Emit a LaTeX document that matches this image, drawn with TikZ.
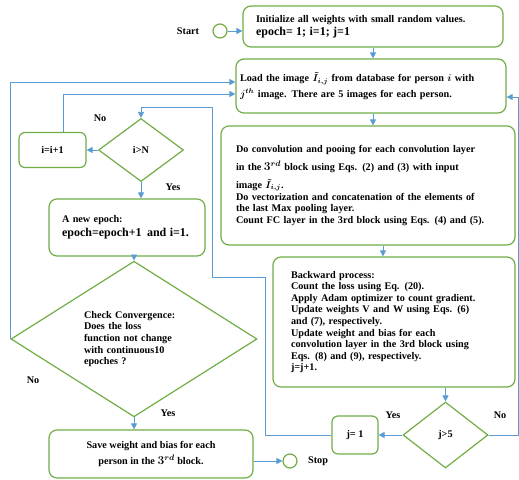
\documentclass[tikz,border=0pt]{standalone}
\usepackage{fontspec}
\setmainfont{Liberation Serif}
\usetikzlibrary{shapes.geometric,arrows.meta}

\definecolor{boxgreen}{RGB}{112,173,71}
\definecolor{flowblue}{RGB}{91,155,213}

\tikzset{
	box/.style={draw=boxgreen, line width=1.2pt, rounded corners=8pt, inner ysep=0pt, align=left},
	decision/.style={draw=boxgreen, line width=1.2pt, diamond, inner sep=0pt},
	terminal/.style={draw=boxgreen, line width=1.2pt, circle, minimum size=14pt, inner sep=0pt},
	arrow/.style={draw=flowblue, line width=0.8pt, -{Triangle[length=6pt,width=6pt]}},
	tag/.style={inner sep=0pt}
}

\begin{document}
\begin{tikzpicture}[x=1pt, y=-1pt, font=\fontsize{10.2}{11.6}\selectfont\bfseries\boldmath]
		\useasboundingbox (0,0) rectangle (519,479);

		% terminals
		\node[tag] (startlbl) at (188, 31) {Start};
		\node[terminal] (start) at (220, 31) {};
		\node[terminal] (stop) at (290, 461) {};
		\node[tag] (stoplbl) at (318, 461) {Stop};

		% process boxes
		\node[box, minimum width=260pt, minimum height=41pt, text width=234pt, inner xsep=13pt] (init) at (373, 26.5)
			{Initialize all weights with small random values.\\[1pt] {\large epoch= 1; i=1; j=1}};
		\node[box, minimum width=270pt, minimum height=54pt, text width=262pt, inner xsep=4pt] (load) at (371, 86)
			{Load the image $\tilde{I}_{i,j}$ from database for person $i$ with\\[4pt] $j^{th}$ image. There are 5 images for each person.};
		\node[box, minimum width=294pt, minimum height=119pt, text width=264pt, inner xsep=15pt] (conv) at (368, 185.5)
			{Do convolution and pooing for each convolution layer\\[5pt]
			 in the{\large$\,3^{rd}$} block using Eqs. (2) and (3) with input\\[5pt]
			 image $\tilde{I}_{i,j}$.\\
			 Do vectorization and concatenation of the elements of\\
			 the last Max pooling layer.\\
			 Count FC layer in the 3rd block using Eqs. (4) and (5).};
		\node[box, minimum width=242pt, minimum height=130pt, text width=206pt, inner xsep=18pt] (back) at (394, 322)
			{Backward process:\\
			 Count the loss using Eq. (20).\\
			 Apply Adam optimizer to count gradient.\\
			 Update weights V and W using Eqs. (6)\\
			 and (7), respectively.\\
			 Update weight and bias for each\\
			 convolution layer in the 3rd block using\\
			 Eqs. (8) and (9), respectively.\\
			 j=j+1.};
		\node[box, rounded corners=6pt, minimum width=46pt, minimum height=38pt, align=center] (jreset) at (355, 435) {j= 1};
		\node[box, rounded corners=6pt, minimum width=67pt, minimum height=35pt, align=center] (iinc) at (52.5, 150) {i=i+1};
		\node[box, minimum width=156pt, minimum height=57pt, text width=130pt, inner xsep=13pt] (epoch) at (127, 227.5)
			{A new epoch:\\[2pt] {\large epoch=epoch+1 \,and i=1.}};
		\node[box, minimum width=204pt, minimum height=48pt, align=center] (save) at (151, 454)
			{Save weight and bias for each\\[3pt] person in the {\large$3^{rd}$} block.};

		% decisions
		\node[decision, minimum width=85pt, minimum height=66pt] (jcheck) at (445.5, 435) {j>5};
		\node[decision, minimum width=85pt, minimum height=63pt] (icheck) at (141, 150) {i>N};
		\node[decision, minimum width=246pt, minimum height=138pt, text width=100pt, align=left] (converge) at (134, 339)
			{Check Convergence:\\ Does the loss\\ function not change\\ with continuous10\\ epoches ?};

		% labels
		\node[tag] (nolbla) at (100, 118) {No};
		\node[tag] (yeslbla) at (173, 187) {Yes};
		\node[tag] (nolblb) at (33, 380) {No};
		\node[tag] (yeslblb) at (168, 413) {Yes};
		\node[tag] (yeslblc) at (393, 415) {Yes};
		\node[tag] (nolblc) at (500, 415) {No};

		% turning points
		\coordinate (rightturn) at (518, 97);
		\coordinate (loopa) at (265, 277);
		\coordinate (loopb) at (212, 107);

		% connectors
		\draw[arrow] (start) -- (start -| init.west);
		\draw[arrow] (init.south) -- (load.north -| init.south);
		\draw[arrow] (load.south -| init.south) -- (conv.north -| init.south);
		\draw[arrow] ([xshift=-11pt]back.north |- conv.south) -- ([xshift=-11pt]back.north);
		\draw[arrow] (jcheck.north |- back.south) -- (jcheck.north);
		\draw[arrow] (jcheck.west) -- (jreset.east);
		\draw[arrow] (jcheck.east) -| (rightturn) -- (rightturn -| load.east);
		\draw[arrow] (jreset.west) -| (loopa) -| (loopb) -| (icheck.north);
		\draw[arrow] (icheck.west) -- (iinc.east);
		\draw[arrow] ([xshift=11pt]iinc.north) |- (load.west |- 0,94);
		\draw[arrow] (icheck.south) -- (icheck.south |- epoch.north);
		\draw[arrow] (converge.north |- epoch.south) -- (converge.north);
		\draw[arrow] (converge.west) |- (load.west |- 0,82);
		\draw[arrow] (converge.south) -- (converge.south |- save.north);
		\draw[arrow] (save.east |- stop) -- (stop.west);
	\end{tikzpicture}
\end{document}
